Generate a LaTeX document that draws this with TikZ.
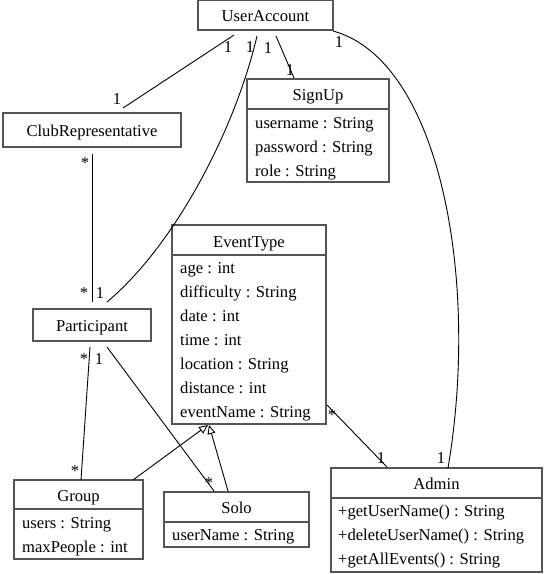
\documentclass[tikz,border=0pt]{standalone}
\usepackage{fontspec}
\setmainfont{Liberation Serif}
\usetikzlibrary{arrows.meta}
\begin{document}
\begin{tikzpicture}[x=1pt,y=-1pt,
  font=\fontsize{16.6}{20}\selectfont,
  box/.style={draw={rgb,255:red,85;green,85;blue,85}, line width=1.5pt, inner sep=0pt, outer sep=0pt, anchor=north west},
  ttl/.style={anchor=base, inner sep=0pt},
  attr/.style={anchor=base west, inner sep=0pt},
  mult/.style={inner sep=0pt},
  assoc/.style={draw=black, line width=0.9pt},
  gen/.style={draw=black, line width=0.9pt, -{Triangle[open, length=9pt, width=8pt, line width=0.9pt]}}
]
\useasboundingbox (0,0) rectangle (556,574);

% class boxes
\node[box, minimum width=135pt, minimum height=30pt] (ua) at (198,0) {};
\node[ttl] (uat) at (265.5,21) {UserAccount};

\node[box, minimum width=178pt, minimum height=34pt] (cr) at (3,113) {};
\node[ttl] (crt) at (92,136) {ClubRepresentative};

\node[box, minimum width=142pt, minimum height=30pt] (suh) at (247,79) {};
\node[box, minimum width=142pt, minimum height=73pt] (sub) at (247,109) {};
\node[ttl] (sut) at (318,100) {SignUp};
\node[attr] (su1) at (255,128) {username : String};
\node[attr] (su2) at (255,152) {password : String};
\node[attr] (su3) at (255,176) {role : String};

\node[box, minimum width=154pt, minimum height=30pt] (eth) at (172,225) {};
\node[box, minimum width=154pt, minimum height=169pt] (etb) at (172,255) {};
\node[ttl] (ett) at (249,247) {EventType};
\node[attr] (et1) at (180,273) {age : int};
\node[attr] (et2) at (180,297) {difficulty : String};
\node[attr] (et3) at (180,321) {date : int};
\node[attr] (et4) at (180,345) {time : int};
\node[attr] (et5) at (180,369) {location : String};
\node[attr] (et6) at (180,393) {distance : int};
\node[attr] (et7) at (180,417) {eventName : String};

\node[box, minimum width=118pt, minimum height=32pt] (p) at (33,309) {};
\node[ttl] (pt) at (92,331) {Participant};

\node[box, minimum width=129pt, minimum height=29pt] (gh) at (14,480) {};
\node[box, minimum width=129pt, minimum height=50pt] (gb) at (14,509) {};
\node[ttl] (gt) at (78.5,501) {Group};
\node[attr] (g1) at (22,528) {users : String};
\node[attr] (g2) at (22,552) {maxPeople : int};

\node[box, minimum width=145pt, minimum height=30pt] (soh) at (164,492) {};
\node[box, minimum width=145pt, minimum height=25pt] (sob) at (164,522) {};
\node[ttl] (sot) at (236.5,513) {Solo};
\node[attr] (so1) at (172,540) {userName : String};

\node[box, minimum width=211pt, minimum height=30pt] (adh) at (331,468) {};
\node[box, minimum width=211pt, minimum height=74pt] (adb) at (331,498) {};
\node[ttl] (adt) at (436.5,489) {Admin};
\node[attr] (ad1) at (338,516) {+getUserName() : String};
\node[attr] (ad2) at (338,540) {+deleteUserName() : String};
\node[attr] (ad3) at (338,564) {+getAllEvents() : String};

% associations
\draw[assoc] ([shift={(36,5)}]ua.south west) -- ([shift={(120,-5)}]cr.north west);
\draw[assoc] ([shift={(59,6)}]ua.south west) .. controls (235,130) and (175,245) .. ([shift={(74,-7)}]p.north west);
\draw[assoc] ([shift={(78,6)}]ua.south west) -- ([shift={(47,-1)}]suh.north west);
\draw[assoc] ([shift={(0,1)}]ua.south east) .. controls (440,60) and (480,280) .. ([shift={(117,0)}]adh.north west);
\draw[assoc] ([shift={(89,7)}]cr.south west) -- ([shift={(59,-7)}]p.north west);
\draw[assoc] ([shift={(57,6)}]p.south west) -- ([shift={(67,0)}]gh.north west);
\draw[assoc] ([shift={(74,6)}]p.south west) -- ([shift={(50,-1)}]soh.north west);
\draw[assoc] ([shift={(1,-19)}]etb.south east) -- ([shift={(56,-1)}]adh.north west);

% generalizations
\draw[gen] ([shift={(119,0)}]gh.north west) -- ([shift={(36,1)}]etb.south west);
\draw[gen] ([shift={(64,-1)}]soh.north west) -- ([shift={(37,1)}]etb.south west);

% multiplicities
\node[mult] (m1) at (228,47) {1};
\node[mult] (m2) at (117,99) {1};
\node[mult] (m3) at (250,47) {1};
\node[mult] (m4) at (100,293) {1};
\node[mult] (m5) at (268,48) {1};
\node[mult] (m6) at (290,70) {1};
\node[mult] (m7) at (339,42) {1};
\node[mult] (m8) at (441,458) {1};
\node[mult] (m9) at (85,163) {*};
\node[mult] (m10) at (84,293) {*};
\node[mult] (m11) at (84,359) {*};
\node[mult] (m12) at (99,359) {1};
\node[mult] (m13) at (75,471) {*};
\node[mult] (m14) at (209,483) {*};
\node[mult] (m15) at (332,415) {*};
\node[mult] (m16) at (381,458) {1};
\end{tikzpicture}
\end{document}
